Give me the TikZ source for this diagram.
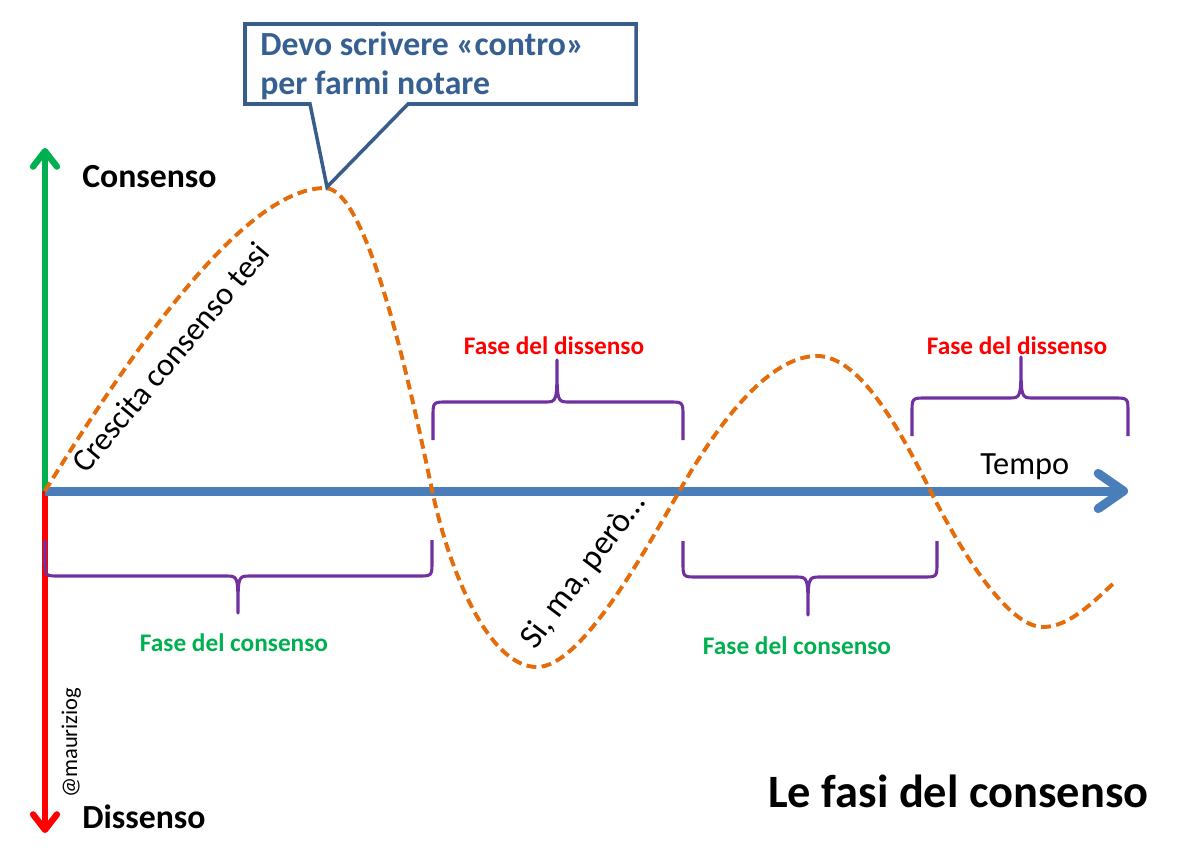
\documentclass[tikz,border=0pt]{standalone}
\usepackage{fontspec}
\setmainfont{Carlito}
\usetikzlibrary{arrows.meta}
\definecolor{axisblue}{HTML}{4A7EBB}
\definecolor{upgreen}{HTML}{00B050}
\definecolor{downred}{HTML}{FF0000}
\definecolor{curveorange}{HTML}{E46C0A}
\definecolor{bracepurple}{HTML}{7030A0}
\definecolor{calloutblue}{HTML}{385D8A}
\definecolor{callouttext}{HTML}{376092}
\tikzset{
  curve/.style={draw=curveorange, line width=2.8pt, dash pattern=on 7pt off 3.8pt},
  fasebrace/.style={draw=bracepurple, line width=2.2pt, line join=round},
  fase/.style={font=\bfseries\fontsize{18}{22}\selectfont},
  axislabel/.style={anchor=base west, font=\bfseries\fontsize{24}{28}\selectfont},
  slanted/.style={anchor=base west, font=\fontsize{24}{28}\selectfont},
}
\begin{document}
\begin{tikzpicture}[x=0.025cm,y=-0.025cm]
   \useasboundingbox (0,0) rectangle (1188,854);
   % axes
   \coordinate (O) at (45,491);
   \coordinate (top) at (45,148);
   \coordinate (bottom) at (45,833);
   \coordinate (end) at (1128,491);
   \draw [upgreen, line width=4.5pt, -{Straight Barb[length=11pt,width=17pt,round]}] (O) -- (top);
   \draw [downred, line width=4.5pt, -{Straight Barb[length=11pt,width=17pt,round]}] (O) -- (bottom);
   \draw [axisblue, line width=6.4pt, -{Straight Barb[length=18pt,width=25pt,round]}] (O) -- (end);
   % braces
   \draw [fasebrace] (45,540) -- (45,561) .. controls (45,576) .. (59,576) -- (226,576) .. controls (238,576) .. (238,613) .. controls (238,576) .. (250,576) -- (418,576) .. controls (432,576) .. (432,561) -- (432,540);
   \draw [fasebrace] (433,440) -- (433,417) .. controls (433,402) .. (447,402) -- (545,402) .. controls (557,402) .. (557,360) .. controls (557,402) .. (569,402) -- (669,402) .. controls (683,402) .. (683,417) -- (683,440);
   \draw [fasebrace] (683,541) -- (683,562) .. controls (683,577) .. (697,577) -- (796,577) .. controls (808,577) .. (808,615) .. controls (808,577) .. (820,577) -- (923,577) .. controls (937,577) .. (937,562) -- (937,541);
   \draw [fasebrace] (912,436) -- (912,413) .. controls (912,398) .. (926,398) -- (1009,398) .. controls (1021,398) .. (1021,357) .. controls (1021,398) .. (1033,398) -- (1114,398) .. controls (1128,398) .. (1128,413) -- (1128,436);
   % consensus curve
   \draw [curve] (O) .. controls (120,370) and (240,188) .. (325,188)
      .. controls (365,188) and (405,360) .. (432,490)
      .. controls (450,575) and (490,667) .. (537,667)
      .. controls (580,667) and (640,560) .. (680,490)
      .. controls (720,420) and (770,356) .. (817,356)
      .. controls (860,356) and (900,430) .. (930,490)
      .. controls (965,560) and (1010,627) .. (1043,627)
      .. controls (1070,627) and (1095,600) .. (1115,582);
   % callout
   \draw [calloutblue, line width=2.5pt, fill=white, line join=miter] (245,24) -- (636,24) -- (636,104) -- (408,104) -- (327,187) -- (310,104) -- (245,104) -- cycle;
   \node (devo) [anchor=base west, text=callouttext, font=\bfseries\fontsize{24}{28}\selectfont, inner sep=0pt] at (260,56) {Devo scrivere «contro»};
   \node (notare) [anchor=base west, text=callouttext, font=\bfseries\fontsize{24}{28}\selectfont, inner sep=0pt] at (260,95) {per farmi notare};
   % labels
   \node (consenso) [axislabel, inner sep=0pt] at (82,187) {Consenso};
   \node (dissenso) [axislabel, inner sep=0pt] at (82,828) {Dissenso};
   \node (tempo) [anchor=base west, font=\fontsize{23}{28}\selectfont, inner sep=0pt] at (980,474) {Tempo};
   \node (titolo) [anchor=base west, font=\bfseries\fontsize{33}{40}\selectfont, inner sep=0pt] at (768,807) {Le fasi del consenso};
   \node (crescita) [slanted, rotate=50, inner sep=0pt, font=\fontsize{23}{27}\selectfont] at (86,475) {Crescita consenso tesi};
   \node (sima) [slanted, rotate=53, inner sep=0pt] at (535,651) {Si, ma, però…};
   \node (firma) [anchor=base west, rotate=90, font=\fontsize{16}{18}\selectfont, inner sep=0pt] at (77,798) {@mauriziog};
   \node (dissenso1) [fase, text=downred] at (554,346) {Fase del dissenso};
   \node (dissenso2) [fase, text=downred] at (1017,346) {Fase del dissenso};
   \node (consenso1) [fase, text=upgreen] at (234,643) {Fase del consenso};
   \node (consenso2) [fase, text=upgreen] at (797,646) {Fase del consenso};
\end{tikzpicture}
\end{document}
